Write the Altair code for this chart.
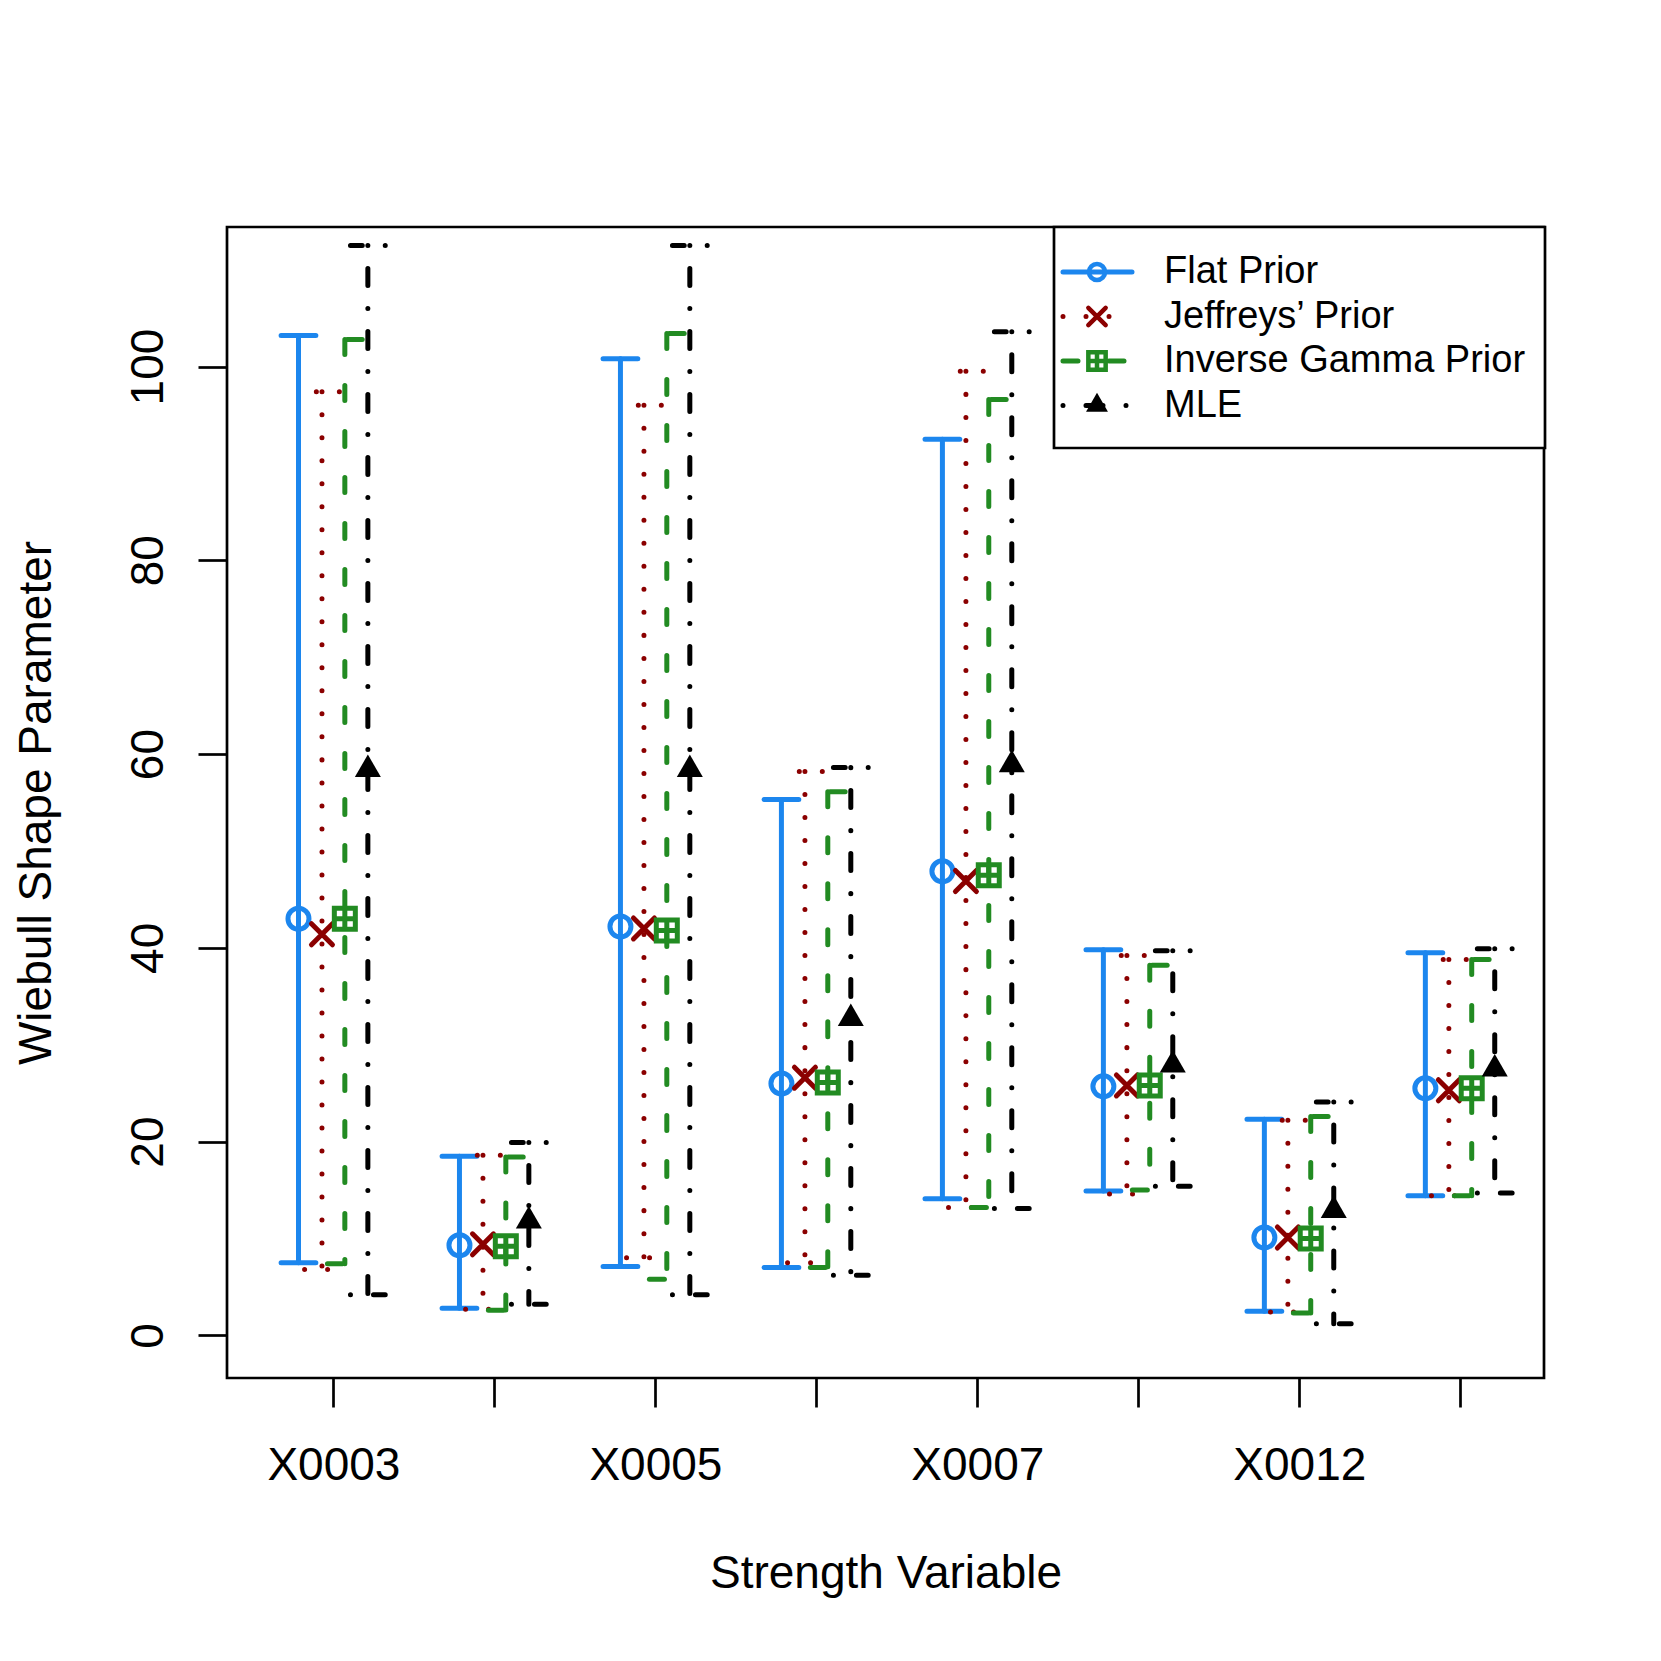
import altair as alt
import pandas as pd

# ---------------- data ----------------
categories = ["X0003", "X0004", "X0005", "X0006", "X0007", "X0008", "X0012", "X0013"]
axis_labels = ["X0003", "", "X0005", "", "X0007", "", "X0012", ""]  # R dropped the overlapping ones
series = ["Flat Prior", "Jeffreys\u2019 Prior", "Inverse Gamma Prior", "MLE"]

flat_lo = [7.5, 2.8, 7.1, 7.0, 14.1, 14.9, 2.5, 14.4]
flat_est = [43.0, 9.3, 42.2, 26.0, 47.9, 25.7, 10.1, 25.5]
flat_hi = [103.2, 18.5, 100.8, 55.3, 92.5, 39.8, 22.3, 39.5]

jef_lo = [6.8, 2.7, 8.0, 7.5, 13.2, 14.6, 2.4, 14.4]
jef_est = [41.4, 9.4, 42.0, 26.6, 46.9, 25.8, 10.1, 25.3]
jef_hi = [97.4, 18.6, 96.0, 58.2, 99.5, 39.2, 22.2, 38.8]

ig_lo = [7.4, 2.6, 5.8, 7.0, 13.2, 15.0, 2.3, 14.4]
ig_est = [43.0, 9.2, 41.8, 26.1, 47.5, 25.8, 10.0, 25.5]
ig_hi = [102.8, 18.4, 103.4, 56.1, 96.6, 38.2, 22.6, 38.8]

mle_lo = [4.2, 3.2, 4.2, 6.2, 13.1, 15.4, 1.2, 14.7]
mle_est = [58.4, 11.8, 58.4, 32.7, 58.9, 27.9, 12.9, 27.5]
mle_hi = [112.5, 19.9, 112.5, 58.6, 103.6, 39.7, 24.1, 39.9]

y_ticks = [0, 20, 40, 60, 80, 100]

# ---------------- styling ----------------
FONT = "Liberation Sans"
offsets = [-0.217, -0.071, 0.071, 0.214]
cap_half = 0.108
colors = ["#1C86EE", "#8B0000", "#228B22", "#000000"]
dashes = [[1, 0], [0.01, 23], [15, 31], [0.01, 22.99, 17, 23]]
X_PATH = "M-1,-1L1,1M-1,1L1,-1"
SQPLUS_PATH = "M-1,-1L1,-1L1,1L-1,1Z M0,-1L0,1 M-1,0L1,0"
TRI_PATH = "M0,-1.155L1,0.577L-1,0.577Z"
marker_defs = [
    dict(shape="circle", filled=False, size=441, strokeWidth=5),
    dict(shape=X_PATH, filled=False, size=441, strokeWidth=5, strokeCap="round"),
    dict(shape=SQPLUS_PATH, filled=False, size=441, strokeWidth=5),
    dict(shape=TRI_PATH, filled=True, size=676, strokeWidth=0),
]
legend_marker_sizes = [260, 300, 300, 480]

W, H = 1317, 1151
LW = 2.7

data_sets = [
    (flat_lo, flat_est, flat_hi),
    (jef_lo, jef_est, jef_hi),
    (ig_lo, ig_est, ig_hi),
    (mle_lo, mle_est, mle_hi),
]

xscale = alt.Scale(domain=[0.339, 8.52], nice=False, zero=False)
yscale = alt.Scale(domain=[-4.4, 114.4], nice=False, zero=False)

label_expr = "[" + ",".join("'" + l + "'" for l in axis_labels) + "][datum.value - 1]"

xaxis = alt.Axis(
    values=list(range(1, len(categories) + 1)),
    labelExpr=label_expr,
    tickSize=29, tickWidth=LW, tickColor="black",
    labelFontSize=46, labelFont=FONT, labelColor="black",
    labelPadding=72, labelBaseline="alphabetic", labelAlign="center",
    labelOverlap=False, labelFlush=False,
    domain=False, grid=False,
    title="Strength Variable", titleFont=FONT, titleFontSize=46,
    titleFontWeight="normal", titleColor="black",
    titleX=W / 2, titleY=209, titleBaseline="alphabetic", titleAlign="center",
)
yaxis = alt.Axis(
    values=y_ticks,
    tickSize=29, tickWidth=LW, tickColor="black",
    labelFontSize=46, labelFont=FONT, labelColor="black",
    labelAngle=270, labelAlign="center", labelBaseline="alphabetic",
    labelPadding=36, labelOverlap=False, labelFlush=False,
    domain=False, grid=False,
    title="Wiebull Shape Parameter", titleFont=FONT, titleFontSize=46,
    titleFontWeight="normal", titleColor="black",
    titleAngle=270, titleX=-177, titleY=H / 2,
    titleBaseline="alphabetic", titleAlign="center",
)

layers = []
for k, name in enumerate(series):
    lo, est, hi = data_sets[k]
    rows = []
    for i in range(len(categories)):
        xc = i + 1 + offsets[k]
        rows.append(dict(cat=categories[i], series=name, x=xc,
                         xl=xc - cap_half, xr=xc + cap_half,
                         lo=lo[i], est=est[i], hi=hi[i]))
    df = pd.DataFrame(rows)
    base = alt.Chart(df)
    rule_kw = dict(color=colors[k], strokeWidth=5, strokeDash=dashes[k], strokeCap="round")
    # vertical interval (drawn from upper to lower)
    layers.append(base.mark_rule(**rule_kw).encode(
        x=alt.X("x:Q", scale=xscale, axis=xaxis),
        y=alt.Y("hi:Q", scale=yscale, axis=yaxis),
        y2="lo:Q",
    ))
    # top cap (right to left)
    layers.append(base.mark_rule(**rule_kw).encode(
        x=alt.X("xr:Q", scale=xscale, axis=xaxis),
        x2="xl:Q",
        y=alt.Y("hi:Q", scale=yscale, axis=yaxis),
    ))
    # bottom cap (left to right)
    layers.append(base.mark_rule(**rule_kw).encode(
        x=alt.X("xl:Q", scale=xscale, axis=xaxis),
        x2="xr:Q",
        y=alt.Y("lo:Q", scale=yscale, axis=yaxis),
    ))
    md = marker_defs[k]
    layers.append(base.mark_point(color=colors[k], opacity=1, **md).encode(
        x=alt.X("x:Q", scale=xscale, axis=xaxis),
        y=alt.Y("est:Q", scale=yscale, axis=yaxis),
    ))

# ---------------- legend (drawn by hand, like R's legend box) ----------------
leg_x0, leg_x1, leg_y0, leg_y1 = 827, W + 1, 0, 221
row_y = [45, 89.5, 134, 178.5]
seg_x0, seg_x1, sym_x, txt_x = 836, 905, 870, 937

one = pd.DataFrame({"k": [0]})
layers.append(alt.Chart(one).mark_rect(fill="white", stroke="black", strokeWidth=LW).encode(
    x=alt.value(leg_x0), x2=alt.value(leg_x1), y=alt.value(leg_y0), y2=alt.value(leg_y1)))
for k, name in enumerate(series):
    ldf = pd.DataFrame({"label": [name]})
    lb = alt.Chart(ldf)
    layers.append(lb.mark_rule(color=colors[k], strokeWidth=5, strokeDash=dashes[k],
                               strokeCap="round").encode(
        x=alt.value(seg_x0), x2=alt.value(seg_x1), y=alt.value(row_y[k])))
    md = dict(marker_defs[k])
    md["size"] = legend_marker_sizes[k]
    if k < 3:
        md["strokeWidth"] = 4.5
    layers.append(lb.mark_point(color=colors[k], opacity=1, **md).encode(
        x=alt.value(sym_x), y=alt.value(row_y[k])))
    layers.append(lb.mark_text(font=FONT, fontSize=38, align="left", baseline="middle",
                               color="black").encode(
        x=alt.value(txt_x), y=alt.value(row_y[k]), text="label:N"))

chart = alt.layer(*layers).properties(
    width=W, height=H,
    autosize=alt.AutoSizeParams(type="none"),
    padding={"left": 219, "top": 219, "right": 60, "bottom": 250},
    background="white",
).configure(
    font=FONT,
    view=alt.ViewConfig(stroke="black", strokeWidth=LW),
)

chart.save("out.html", embed_options={"renderer": "svg", "actions": False})
